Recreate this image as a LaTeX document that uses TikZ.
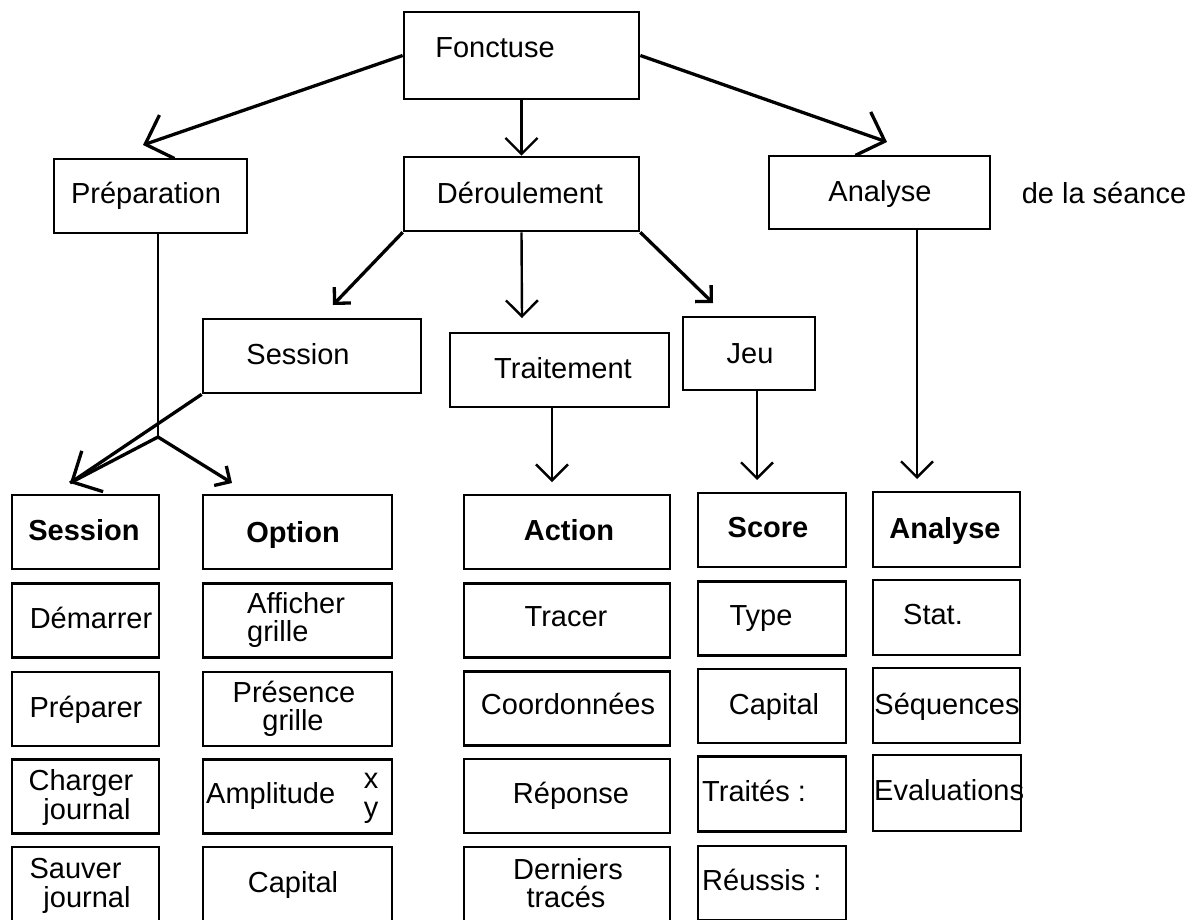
\documentclass[tikz,border=0pt]{standalone}
\usepackage{fontspec}
\setmainfont{Liberation Sans}
\usetikzlibrary{arrows.meta}
\begin{document}
\begin{tikzpicture}[x=1pt,y=-1pt,
  box/.style={draw, line width=2.7pt, rectangle, inner sep=0pt, line join=miter},
  txt/.style={inner sep=0pt, text height=21pt, text depth=0pt, font=\fontsize{29}{33}\selectfont},
  btxt/.style={txt, font=\fontsize{29}{33}\selectfont\bfseries},
  dline/.style={line width=3.3pt, line join=miter},
  vline/.style={line width=2.4pt, line join=miter},
  bigarrow/.style={-{Straight Barb[length=23pt,width=46pt]}},
  midarrow/.style={-{Straight Barb[length=16pt,width=32pt]}},
  smallarrow/.style={-{Straight Barb[length=11.5pt,width=23pt]}}
]
\clip (0,0) rectangle (1197,919);
\fill[white] (0,0) rectangle (1197,919);

% ---- top level
\node[box, minimum width=235pt, minimum height=87pt] (fonc) at (521.5,55.5) {};
\node[txt] (fonc-t) at (495,47) {Fonctuse};

\node[box, minimum width=193pt, minimum height=74pt] (prep) at (150.5,196) {};
\node[txt] (prep-t) at (146,193) {Préparation};

\node[box, minimum width=235pt, minimum height=74pt] (deroul) at (521.5,194) {};
\node[txt] (deroul-t) at (520,193) {Déroulement};

\node[box, minimum width=221pt, minimum height=73pt] (anal) at (879.5,192.5) {};
\node[txt] (anal-t) at (880,190.5) {Analyse};
\node[txt] (seance) at (1104,193) {de la séance};

% ---- second level
\node[box, minimum width=218pt, minimum height=74pt] (sess) at (312,356) {};
\node[txt] (sess-t) at (298,354) {Session};

\node[box, minimum width=219pt, minimum height=74pt] (trait) at (559.5,370) {};
\node[txt] (trait-t) at (563,368) {Traitement};

\node[box, minimum width=132pt, minimum height=73pt] (jeu) at (749,353.5) {};
\node[txt] (jeu-t) at (750,353) {Jeu};

% ---- column 1 : Session
\node[box, minimum width=147pt, minimum height=74pt] (c1a) at (85.5,532) {};
\node[btxt] (c1a-t) at (84,530) {Session};
\node[box, minimum width=147pt, minimum height=74pt] (c1b) at (85.5,620.5) {};
\node[txt] (c1b-t) at (91,618) {Démarrer};
\node[box, minimum width=147pt, minimum height=74pt] (c1c) at (85.5,709) {};
\node[txt] (c1c-t) at (86,707) {Préparer};
\node[box, minimum width=147pt, minimum height=74pt] (c1d) at (85.5,796.5) {};
\node[txt] (c1d-t1) at (81,780) {Charger};
\node[txt] (c1d-t2) at (87,809) {journal};
\node[box, minimum width=147pt, minimum height=74pt] (c1e) at (85.5,884) {};
\node[txt] (c1e-t1) at (75.5,868) {Sauver};
\node[txt] (c1e-t2) at (87,897) {journal};

% ---- column 2 : Option
\node[box, minimum width=189pt, minimum height=74pt] (c2a) at (297.5,532) {};
\node[btxt] (c2a-t) at (293,532) {Option};
\node[box, minimum width=189pt, minimum height=74pt] (c2b) at (297.5,620.5) {};
\node[txt, anchor=west] (c2b-t1) at (247,603) {Afficher};
\node[txt, anchor=west] (c2b-t2) at (247,631) {grille};
\node[box, minimum width=189pt, minimum height=74pt] (c2c) at (297.5,709) {};
\node[txt] (c2c-t1) at (294,692) {Présence};
\node[txt] (c2c-t2) at (293,720) {grille};
\node[box, minimum width=189pt, minimum height=74pt] (c2d) at (297.5,796.5) {};
\node[txt, anchor=west] (c2d-t) at (206,793) {Amplitude};
\node[txt] (c2d-x) at (371,777.5) {x};
\node[txt] (c2d-y) at (371,806.5) {y};
\node[box, minimum width=189pt, minimum height=74pt] (c2e) at (297.5,884) {};
\node[txt] (c2e-t) at (293,882) {Capital};

% ---- column 3 : Action
\node[box, minimum width=206pt, minimum height=74pt] (c3a) at (567,532) {};
\node[btxt] (c3a-t) at (569,530) {Action};
\node[box, minimum width=206pt, minimum height=74pt] (c3b) at (567,620.5) {};
\node[txt] (c3b-t) at (566,616) {Tracer};
\node[box, minimum width=206pt, minimum height=74pt] (c3c) at (567,708.5) {};
\node[txt] (c3c-t) at (568,704) {Coordonnées};
\node[box, minimum width=206pt, minimum height=74pt] (c3d) at (567,796) {};
\node[txt] (c3d-t) at (571,793) {Réponse};
\node[box, minimum width=206pt, minimum height=74pt] (c3e) at (567,884) {};
\node[txt] (c3e-t1) at (568,869) {Derniers};
\node[txt] (c3e-t2) at (566,897) {tracés};

% ---- column 4 : Score
\node[box, minimum width=148pt, minimum height=74pt] (c4a) at (772,530) {};
\node[btxt] (c4a-t) at (768,527) {Score};
\node[box, minimum width=148pt, minimum height=74pt] (c4b) at (772,618.5) {};
\node[txt] (c4b-t) at (761,615) {Type};
\node[box, minimum width=148pt, minimum height=74pt] (c4c) at (772,706) {};
\node[txt] (c4c-t) at (774,704) {Capital};
\node[box, minimum width=148pt, minimum height=75pt] (c4d) at (772,794) {};
\node[txt, anchor=west] (c4d-t) at (702,791) {Traités :};
\node[box, minimum width=148pt, minimum height=74pt] (c4e) at (772,883) {};
\node[txt, anchor=west] (c4e-t) at (702,880) {Réussis :};

% ---- column 5 : Analyse
\node[box, minimum width=147pt, minimum height=75pt] (c5a) at (946.5,529.5) {};
\node[btxt] (c5a-t) at (945,528) {Analyse};
\node[box, minimum width=147pt, minimum height=75pt] (c5b) at (946.5,617.5) {};
\node[txt] (c5b-t) at (933,614) {Stat.};
\node[box, minimum width=147pt, minimum height=75pt] (c5c) at (946.5,705.5) {};
\node[txt] (c5c-t) at (947,704) {Séquences};
\node[box, minimum width=148pt, minimum height=76pt] (c5d) at (947,793) {};
\node[txt, anchor=west] (c5d-t) at (874,790) {Evaluations};

% ---- free ends of connectors
\coordinate (apPrep) at (143,145);
\coordinate (apAnal) at (887,142);
\coordinate (apSess) at (333,305);
\coordinate (apTrait) at (522,318);
\coordinate (apJeu) at (713,303);
\coordinate (junc) at (158,437);
\coordinate (apSessB) at (70,483);
\coordinate (apOpt) at (232,483);
\coordinate (apAct) at (552,482);
\coordinate (apScore) at (757,480);
\coordinate (apAnB) at (917,479);

% ---- connectors
\draw[dline, bigarrow] (fonc.west) -- (apPrep);
\draw[dline, bigarrow] (fonc.east) -- (apAnal);
\draw[vline, midarrow] (fonc.south) -- (deroul.north);

\draw[dline, smallarrow] (deroul.south west) -- (apSess);
\draw[vline, midarrow] (deroul.south) -- (apTrait);
\draw[dline, smallarrow] (deroul.south east) -- (apJeu);

\draw[vline] (prep.south -| junc) -- (junc);
\draw[dline] (sess.south west) -- (apSessB);
\draw[dline, bigarrow] (junc) -- (apSessB);
\draw[dline, smallarrow] (junc) -- (apOpt);

\draw[vline, midarrow] (trait.south -| apAct) -- (apAct);
\draw[vline, midarrow] (jeu.south -| apScore) -- (apScore);
\draw[vline, midarrow] (anal.south -| apAnB) -- (apAnB);
\end{tikzpicture}
\end{document}
